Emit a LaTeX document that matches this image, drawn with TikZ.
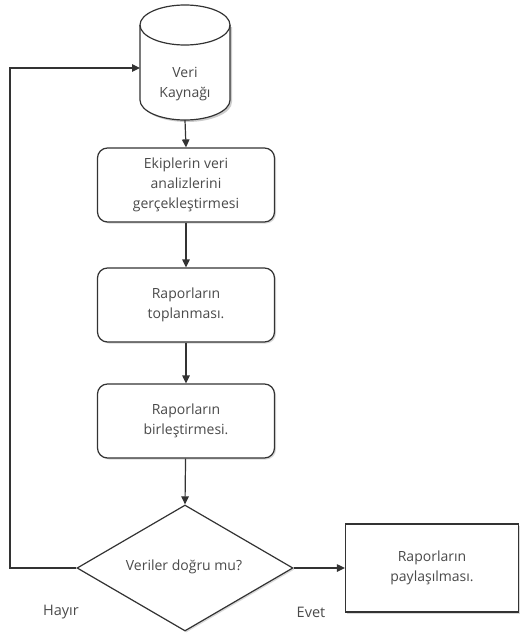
\documentclass[tikz,border=0pt]{standalone}
\usepackage{fontspec}
\setmainfont{Open Sans}
\usetikzlibrary{arrows.meta,shapes.geometric,shadows}
\definecolor{ln}{HTML}{333333}
\definecolor{tx}{HTML}{4a4a4a}
\begin{document}
\begin{tikzpicture}[x=1pt,y=-1pt,
  every node/.style={font=\fontsize{14}{20}\selectfont, text=tx, align=center},
  shd/.style={drop shadow={opacity=0.3,shadow xshift=1.5pt,shadow yshift=-1.5pt}},
  procbox/.style={draw=ln, line width=1.2pt, rounded corners=10pt, fill=white, shd, minimum width=177pt, minimum height=74pt, inner sep=0pt},
  sqbox/.style={draw=ln, line width=1.2pt, fill=white, shd, minimum width=173pt, minimum height=88pt, inner sep=0pt},
  dec/.style={draw=ln, line width=1.2pt, fill=white, shd, diamond, minimum width=216pt, minimum height=126pt, inner sep=0pt},
  conn/.style={draw=ln, line width=1.2pt, -{Triangle[length=8pt,width=7.5pt]}},
  lbl/.style={font=\fontsize{14.5}{16}\selectfont}]
\useasboundingbox (0,0) rectangle (520,637);
% cylinder
\fill[black!20] (142,27) -- (142,102) arc[start angle=180,end angle=0,x radius=45,y radius=20] -- (232,27) -- cycle;
\filldraw[draw=ln, fill=white, line width=1.2pt] (140,25) -- (140,100) arc[start angle=180,end angle=0,x radius=45,y radius=20] -- (230,25) arc[start angle=0,end angle=-180,x radius=45,y radius=20] -- cycle;
\draw[ln, line width=1.2pt] (140,25) arc[start angle=180,end angle=0,x radius=45,y radius=20];
\node[inner sep=0pt, minimum width=90pt, minimum height=115pt] (src) at (185,62.5) {};
\node at (185,84) {Veri\\Kaynağı};
\node[procbox] (b1) at (186,185) {Ekiplerin veri\\analizlerini\\gerçekleştirmesi};
\node[procbox] (b2) at (186,305) {Raporların\\toplanması.};
\node[procbox] (b3) at (186,421) {Raporların\\birleştirmesi.};
\node[dec] (d) at (185,568) {};
\node at (184,567) {Veriler doğru mu?};
\node[sqbox] (r) at (432,568) {Raporların\\paylaşılması.};
\coordinate (c1) at (10,568);
\coordinate (c2) at (10,68);
\coordinate (c3) at (140,68);
\draw[conn] (src.south) -- (b1.north);
\draw[conn] (b1) -- (b2);
\draw[conn] (b2) -- (b3);
\draw[conn] (b3) -- (d.north);
\draw[conn] (d.east) -- (r.west);
\draw[conn] (d.west) -- (c1) -- (c2) -- (c3);
\node[lbl] (h) at (61,612) {Hayır};
\node[lbl] (e) at (311,612) {Evet};
\end{tikzpicture}
\end{document}
